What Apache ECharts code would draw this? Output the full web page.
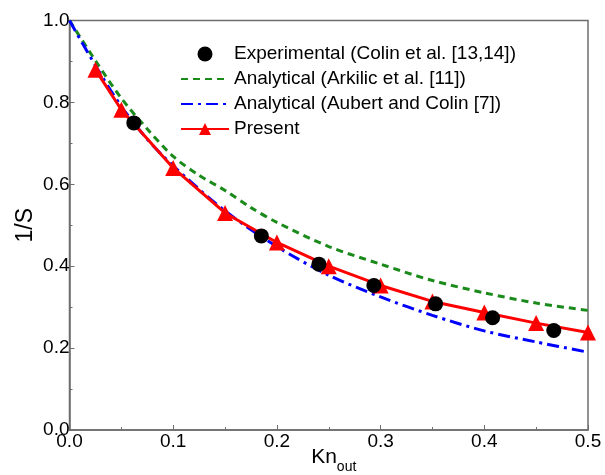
<!DOCTYPE html>
<html><head><meta charset="utf-8">
<script src="https://cdn.jsdelivr.net/npm/echarts@6/dist/echarts.min.js"></script>
<style>html,body{margin:0;padding:0;background:#fff}#c{width:605px;height:475px}</style>
</head><body><div id="c"></div>
<script>
var expX = [0.062, 0.185, 0.2405, 0.2935, 0.353, 0.408, 0.467];
var expY = [0.750, 0.474, 0.405, 0.353, 0.308, 0.274, 0.243];

var arkX = [0, 0.025, 0.05, 0.075, 0.1, 0.125, 0.15, 0.175, 0.2, 0.25, 0.3, 0.35, 0.4, 0.45, 0.5];
var arkY = [1.0, 0.902, 0.81, 0.735, 0.668, 0.622, 0.585, 0.543, 0.507, 0.448, 0.405, 0.365, 0.335, 0.31, 0.292];

var aubX = [0, 0.025, 0.05, 0.075, 0.1, 0.15, 0.2, 0.25, 0.3, 0.35, 0.4, 0.45, 0.5];
var aubY = [1.0, 0.89, 0.79, 0.71, 0.645, 0.535, 0.448, 0.378, 0.325, 0.28, 0.242, 0.215, 0.19];

var preX = [0.025, 0.05, 0.1, 0.15, 0.2, 0.25, 0.3, 0.35, 0.4, 0.45, 0.5];
var preY = [0.880, 0.782, 0.640, 0.530, 0.458, 0.400, 0.353, 0.314, 0.287, 0.261, 0.238];

var xTicks = ['0.0', '0.1', '0.2', '0.3', '0.4', '0.5'];
var yTicks = ['0.0', '0.2', '0.4', '0.6', '0.8', '1.0'];

var names = ['Experimental (Colin et al. [13,14])', 'Analytical (Arkilic et al. [11])', 'Analytical (Aubert and Colin [7])', 'Present'];

function pairs(xs, ys) { return xs.map(function (x, i) { return [x, ys[i]]; }); }

var FONT = '"Liberation Sans", Arial, sans-serif';
var axisCol = '#6e6e6e';
var chart = echarts.init(document.getElementById('c'), null, { renderer: 'canvas' });
chart.setOption({
  animation: false,
  textStyle: { fontFamily: FONT },
  grid: { left: 69.5, right: 17, top: 20.5, bottom: 45, containLabel: false, outerBoundsMode: 'none',
          show: true, borderColor: axisCol, borderWidth: 1.5 },
  legend: {
    orient: 'vertical', left: 175, top: 39.5, itemWidth: 48, itemHeight: 15, itemGap: 6,
    textStyle: { fontFamily: FONT, fontSize: 19, color: '#000' },
    data: [
      { name: names[0], icon: 'circle', itemStyle: { color: '#000', opacity: 1 } },
      { name: names[1], itemStyle: { opacity: 0 } },
      { name: names[2], itemStyle: { opacity: 0 } },
      names[3]
    ]
  },
  xAxis: {
    type: 'value', min: 0, max: 0.5, interval: 0.1,
    name: '{a|Kn}{b|out}', nameLocation: 'middle', nameGap: 10, nameMoveOverlap: false,
    nameTextStyle: { padding: [0, 0, 0, 10], rich: { a: { fontSize: 21, fontFamily: FONT, color: '#000' }, b: { fontSize: 14, fontFamily: FONT, color: '#000', padding: [20, 0, 0, 0] } } },
    axisLine: { lineStyle: { color: axisCol, width: 1.5 } },
    axisTick: { inside: true, length: 5, lineStyle: { color: axisCol } },
    minorTick: { show: true, splitNumber: 2, length: 3, lineStyle: { color: axisCol } },
    splitLine: { show: false },
    axisLabel: { fontSize: 19, color: '#000', margin: 2, fontFamily: FONT, formatter: function (v) { return xTicks[Math.round(v * 10)]; } }
  },
  yAxis: {
    type: 'value', min: 0, max: 1, interval: 0.2,
    name: '1/S', nameLocation: 'middle', nameGap: 32, nameRotate: 90, nameMoveOverlap: false,
    nameTextStyle: { fontSize: 23, fontFamily: FONT, color: '#000' },
    axisLine: { show: true, lineStyle: { color: axisCol, width: 1.5 } },
    axisTick: { show: true, inside: true, length: 5, lineStyle: { color: axisCol } },
    minorTick: { show: true, splitNumber: 2, length: 3, lineStyle: { color: axisCol } },
    splitLine: { show: false },
    axisLabel: { fontSize: 19, color: '#000', margin: 0, fontFamily: FONT, formatter: function (v) { return yTicks[Math.round(v * 5)]; } }
  },
  series: [
    { name: names[1], type: 'line', smooth: 0.3, showSymbol: false, symbol: 'none', data: pairs(arkX, arkY),
      lineStyle: { color: '#1a8a1a', width: 3, type: [7, 5] }, itemStyle: { color: '#1a8a1a' }, z: 2 },
    { name: names[2], type: 'line', smooth: 0.3, symbol: 'none', data: pairs(aubX, aubY),
      lineStyle: { color: '#0000ff', width: 3, type: [12, 5, 3, 5] }, itemStyle: { color: '#0000ff' }, z: 3 },
    { name: names[3], type: 'line', symbol: 'triangle', symbolSize: 16, data: pairs(preX, preY),
      lineStyle: { color: '#ff0000', width: 3 }, itemStyle: { color: '#ff0000' }, z: 4 },
    { name: names[0], type: 'scatter', symbol: 'circle', symbolSize: 15, data: pairs(expX, expY),
      itemStyle: { color: '#000', opacity: 1 }, z: 5 }
  ]
});
</script></body></html>
